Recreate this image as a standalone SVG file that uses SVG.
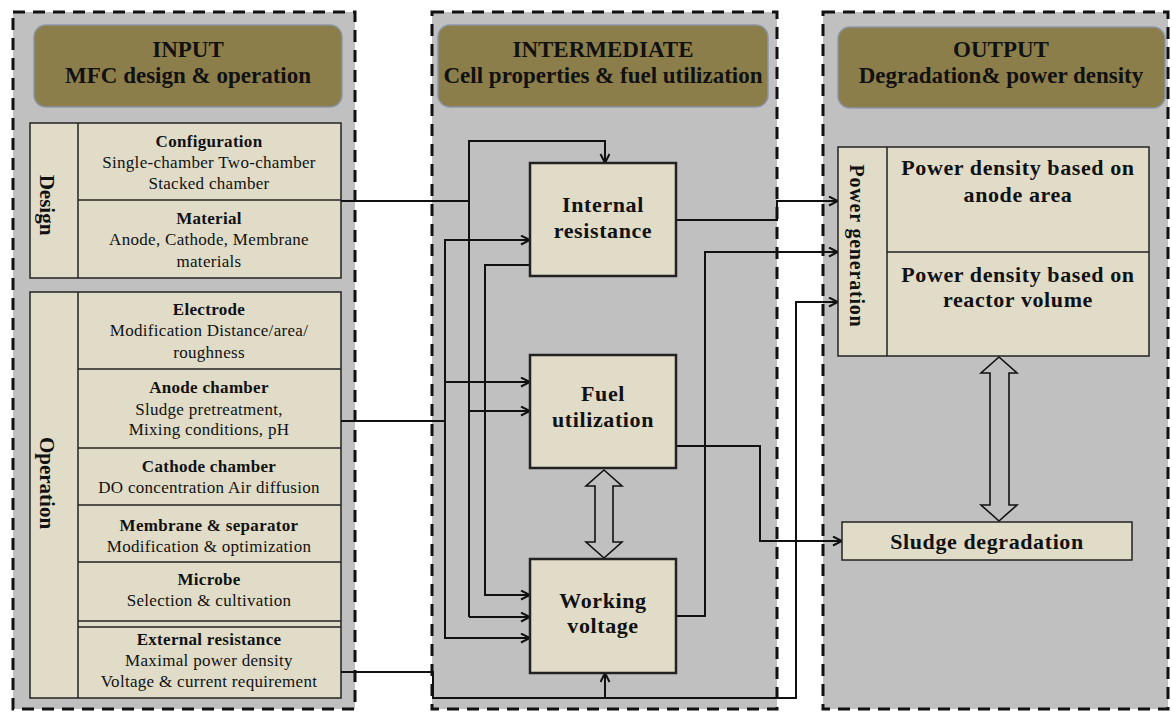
<svg xmlns="http://www.w3.org/2000/svg" width="1171" height="713" viewBox="0 0 1171 713">
<style>
.panel{fill:#c0c0c0;stroke:#111;stroke-width:3;stroke-dasharray:12 8}
.hdr{fill:#8c7e4b;stroke:#8a96a6;stroke-width:1.5}
.cell{fill:#e0dcc8;stroke:#222;stroke-width:1.5}
.ln{fill:none;stroke:#222;stroke-width:1.5}
.con{fill:none;stroke:#111;stroke-width:2}
.dbl{fill:#c0c0c0;stroke:#111;stroke-width:1.6}
text{font-family:"Liberation Serif","Times New Roman",serif;fill:#111;text-anchor:middle}
.ht{font-size:23px;font-weight:bold}
.ct{font-size:17px;font-weight:bold;letter-spacing:0.3px}
.cs{font-size:17px;letter-spacing:0.3px}
.bt{font-size:22px;font-weight:bold;letter-spacing:0.6px}
.vt{font-size:21px;font-weight:bold}
</style>
<defs>
<marker id="arr" markerUnits="userSpaceOnUse" markerWidth="12" markerHeight="12" refX="10" refY="5" orient="auto">
<path d="M1,0.5 L10,5 L1,9.5" fill="none" stroke="#111" stroke-width="2"/>
</marker>
</defs>
<rect width="1171" height="713" fill="#fff"/>

<g id="panel-input">
<rect class="panel" x="13" y="12" width="342" height="697"/>
<rect class="hdr" x="34" y="25" width="308" height="82" rx="12"/>
<text class="ht" x="188" y="57">INPUT</text>
<text class="ht" x="188" y="83">MFC design &amp; operation</text>
</g>

<g id="design">
<rect class="cell" x="30" y="123" width="311" height="155"/>
<line class="ln" x1="78" y1="123" x2="78" y2="278"/>
<line class="ln" x1="78" y1="200" x2="341" y2="200"/>
<text class="vt" transform="translate(47,205) rotate(90)" x="0" y="7">Design</text>
<text class="ct" x="209" y="147">Configuration</text>
<text class="cs" x="209" y="168">Single-chamber Two-chamber</text>
<text class="cs" x="209" y="189">Stacked chamber</text>
<text class="ct" x="209" y="224">Material</text>
<text class="cs" x="209" y="245">Anode, Cathode, Membrane</text>
<text class="cs" x="209" y="267">materials</text>
</g>

<g id="operation">
<rect class="cell" x="30" y="292" width="311" height="406"/>
<line class="ln" x1="78" y1="292" x2="78" y2="698"/>
<line class="ln" x1="78" y1="369" x2="341" y2="369"/>
<line class="ln" x1="78" y1="448" x2="341" y2="448"/>
<line class="ln" x1="78" y1="505" x2="341" y2="505"/>
<line class="ln" x1="78" y1="562" x2="341" y2="562"/>
<line class="ln" x1="78" y1="621" x2="341" y2="621"/>
<line class="ln" x1="78" y1="627" x2="341" y2="627"/>
<text class="vt" transform="translate(47,483) rotate(90)" x="0" y="7">Operation</text>
<text class="ct" x="209" y="315">Electrode</text>
<text class="cs" x="209" y="336">Modification Distance/area/</text>
<text class="cs" x="209" y="358">roughness</text>
<text class="ct" x="209" y="393">Anode chamber</text>
<text class="cs" x="209" y="415">Sludge pretreatment,</text>
<text class="cs" x="209" y="435">Mixing conditions, pH</text>
<text class="ct" x="209" y="472">Cathode chamber</text>
<text class="cs" x="209" y="493">DO concentration Air diffusion</text>
<text class="ct" x="209" y="531">Membrane &amp; separator</text>
<text class="cs" x="209" y="552">Modification &amp; optimization</text>
<text class="ct" x="209" y="585">Microbe</text>
<text class="cs" x="209" y="606">Selection &amp; cultivation</text>
<text class="ct" x="209" y="645">External resistance</text>
<text class="cs" x="209" y="666">Maximal power density</text>
<text class="cs" x="209" y="687">Voltage &amp; current requirement</text>
</g>

<g id="panel-intermediate">
<rect class="panel" x="432" y="12" width="345" height="697"/>
<rect class="hdr" x="438" y="25" width="330" height="82" rx="12"/>
<text class="ht" x="603" y="57">INTERMEDIATE</text>
<text class="ht" x="603" y="83">Cell properties &amp; fuel utilization</text>
</g>

<g id="panel-output">
<rect class="panel" x="823" y="12" width="345" height="697"/>
<rect class="hdr" x="838" y="27" width="327" height="81" rx="12"/>
<text class="ht" x="1001" y="57">OUTPUT</text>
<text class="ht" x="1001" y="83">Degradation&amp; power density</text>
</g>

<g id="connectors">
<!-- design -->
<polyline class="con" points="341,201 469,201"/>
<polyline class="con" points="469,617 469,141 605,141 605,163" marker-end="url(#arr)"/>
<polyline class="con" points="469,617 530,617" marker-end="url(#arr)"/>
<polyline class="con" points="469,411 530,411" marker-end="url(#arr)"/>
<!-- anode chamber -->
<polyline class="con" points="341,421 445,421"/>
<polyline class="con" points="530,240 445,240 445,638 530,638" marker-end="url(#arr)"/>
<polyline class="con" points="445,240 530,240" marker-end="url(#arr)"/>
<polyline class="con" points="445,382 530,382" marker-end="url(#arr)"/>
<!-- internal resistance to working voltage -->
<polyline class="con" points="530,265 485,265 485,595 530,595" marker-end="url(#arr)"/>
<!-- external resistance -->
<polyline class="con" points="341,672 433,672 433,698 796,698 796,302 838,302" marker-end="url(#arr)"/>
<polyline class="con" points="605,698 605,673" marker-end="url(#arr)"/>
<!-- outputs -->
<polyline class="con" points="676,220 777,220 777,201 838,201" marker-end="url(#arr)"/>
<polyline class="con" points="676,616 705,616 705,252 838,252" marker-end="url(#arr)"/>
<polyline class="con" points="676,446 760,446 760,541 842,541" marker-end="url(#arr)"/>
<!-- double arrows -->
<polygon class="dbl" points="604,470 622,486 613,486 613,542 622,542 604,558 586,542 595,542 595,486 586,486"/>
<polygon class="dbl" points="999,357 1017,373 1009,373 1009,505 1017,505 999,521 981,505 990,505 990,373 981,373"/>
</g>

<g id="internal-resistance">
<rect class="cell" x="530" y="163" width="146" height="113" style="stroke-width:2.5"/>
<text class="bt" x="603" y="212">Internal</text>
<text class="bt" x="603" y="238">resistance</text>
</g>
<g id="fuel-utilization">
<rect class="cell" x="530" y="355" width="146" height="113" style="stroke-width:2.5"/>
<text class="bt" x="603" y="401">Fuel</text>
<text class="bt" x="603" y="427">utilization</text>
</g>
<g id="working-voltage">
<rect class="cell" x="530" y="559" width="146" height="114" style="stroke-width:2.5"/>
<text class="bt" x="603" y="608">Working</text>
<text class="bt" x="603" y="633">voltage</text>
</g>

<g id="power-generation">
<rect class="cell" x="838" y="147" width="311" height="209"/>
<line class="ln" x1="887" y1="147" x2="887" y2="356"/>
<line class="ln" x1="887" y1="252" x2="1149" y2="252"/>
<text class="vt" transform="translate(857,246) rotate(90)" x="0" y="7" style="font-size:20px;letter-spacing:0.8px">Power generation</text>
<text class="bt" x="1018" y="175">Power density based on</text>
<text class="bt" x="1018" y="202">anode area</text>
<text class="bt" x="1018" y="282">Power density based on</text>
<text class="bt" x="1018" y="307">reactor volume</text>
</g>

<g id="sludge-degradation">
<rect class="cell" x="842" y="522" width="290" height="38"/>
<text class="bt" x="987" y="549">Sludge degradation</text>
</g>
</svg>
